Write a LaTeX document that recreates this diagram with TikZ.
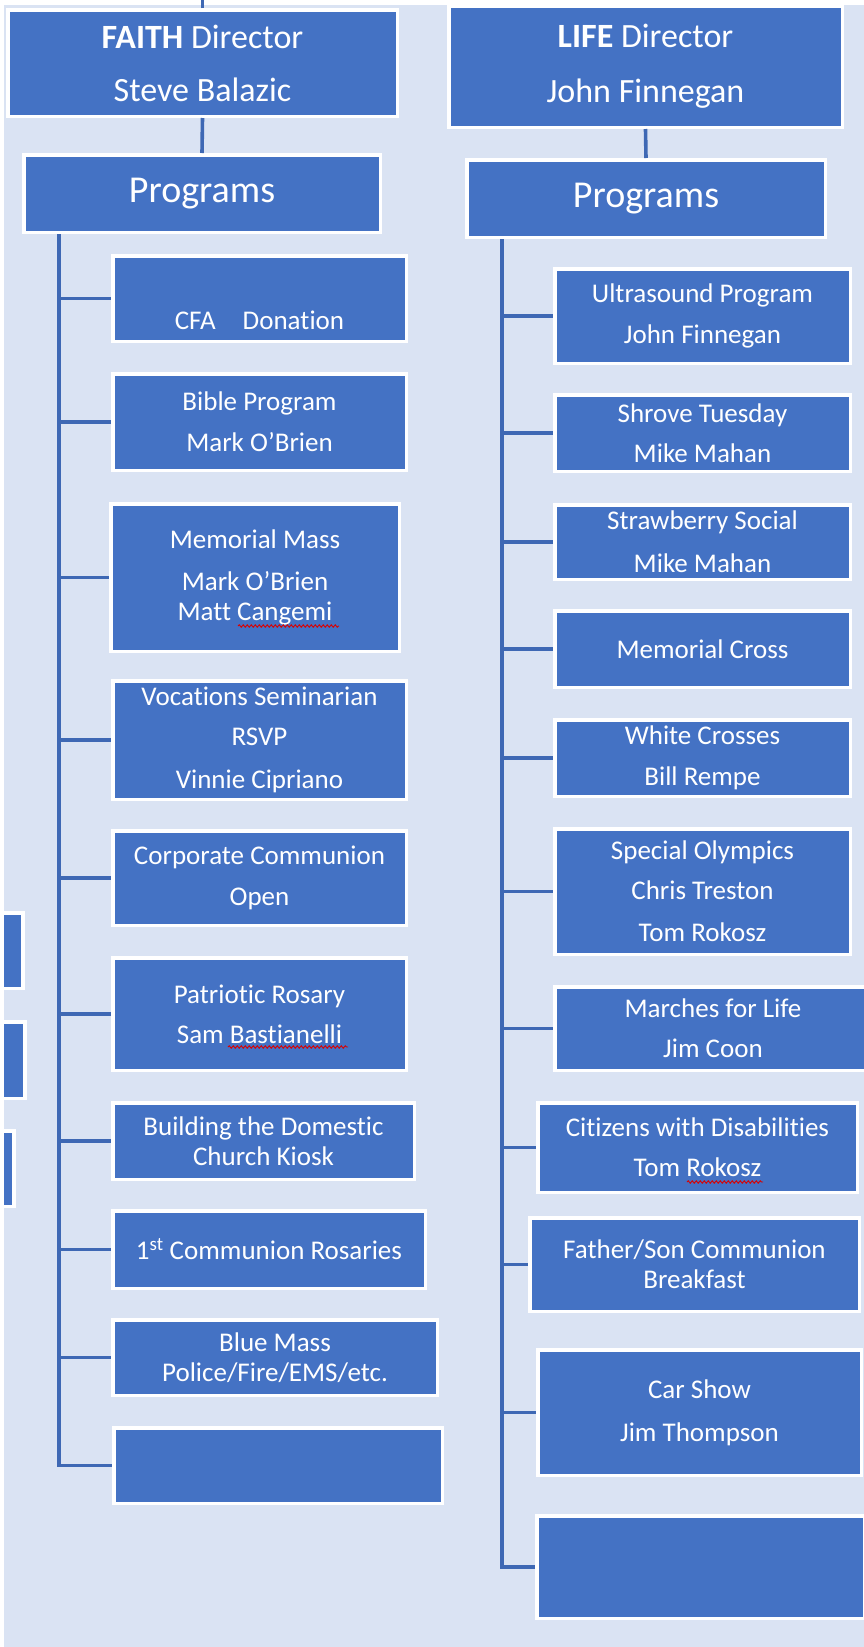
\documentclass[tikz,border=0pt]{standalone}
\usepackage{fontspec}
\setmainfont{Carlito}[Ligatures=NoCommon]
\usetikzlibrary{calc,positioning,decorations.pathmorphing}
\definecolor{boxblue}{RGB}{68,114,196}
\definecolor{linkblue}{RGB}{62,104,180}
\definecolor{paleblue}{RGB}{218,227,243}

\begin{document}
\begin{tikzpicture}[x=1pt,y=-1pt]

\tikzset{progbox/.style={draw=white,line width=3.5pt,fill=boxblue,text=white,align=center,inner sep=0pt,font=\fontsize{27}{30}\selectfont},
dirbox/.style={progbox,font=\fontsize{34}{40}\selectfont},
headbox/.style={progbox,font=\fontsize{38}{44}\selectfont},
boxsize/.style 2 args={minimum width=#1pt,minimum height=#2pt},
link/.style={draw=linkblue,line width=3.6pt},
spell/.style={draw=red!85!black,line width=0.9pt,decorate,decoration={snake,amplitude=1.2pt,segment length=4pt}}}

\useasboundingbox (0,0) rectangle (864,1647);
\fill[white] (0,0) rectangle (864,1647);
\fill[paleblue] (4,5) rectangle (864,1647);

\begin{scope}
\clip (4,5) rectangle (864,1647);

% Directors and program heads
\node[dirbox,boxsize={389.5}{106.5}] (faithdir) at (202.5,63) {\textbf{FAITH} Director\\[13pt]Steve Balazic};
\node[headbox,boxsize={356.5}{77.5}] (faithprog) at (202,193.5) {Programs};
\node[dirbox,boxsize={393.5}{121.5}] (lifedir) at (645.5,66.5) {\textbf{LIFE} Director\\[15pt]John Finnegan};
\node[headbox,boxsize={358.5}{77.5}] (lifeprog) at (646,198.5) {Programs};

% Faith programs
\node[progbox,boxsize={293.5}{85.5}] (cfa) at (259.5,298.5) {\strut\\[11pt]CFA\quad Donation};
\node[progbox,boxsize={293.5}{96.5}] (bible) at (259.5,422) {Bible Program\\[11pt]Mark O’Brien};
\node[progbox,boxsize={288.5}{147.5}] (memmass) at (255,577.5) {Memorial Mass\\[12pt]Mark O’Brien\\Matt Cangemi};
\node[progbox,boxsize={293.5}{118.5}] (vocations) at (259.5,740) {Vocations Seminarian\\[10pt]RSVP\\[13pt]Vinnie Cipriano};
\node[progbox,boxsize={293.5}{94.5}] (corporate) at (259.5,878) {Corporate Communion\\[11pt]Open};
\node[progbox,boxsize={293.5}{112.5}] (rosary) at (259.5,1014) {Patriotic Rosary\\[10pt]Sam Bastianelli};
\node[progbox,boxsize={301.5}{76.5}] (kiosk) at (263.5,1141) {Building the Domestic\\Church Kiosk};
\node[progbox,boxsize={312.5}{77.5}] (firstcomm) at (269,1249.5) {1\textsuperscript{st} Communion Rosaries};
\node[progbox,boxsize={324.5}{75.5}] (bluemass) at (275,1357.5) {Blue Mass\\Police/Fire/EMS/etc.};
\node[progbox,boxsize={328.5}{75.5}] (faithblank) at (278,1465.5) {};

% Life programs
\node[progbox,boxsize={295.5}{94.5}] (ultrasound) at (702.5,316) {Ultrasound Program\\[11pt]John Finnegan};
\node[progbox,boxsize={295.5}{76.5}] (shrove) at (702.5,433) {Shrove Tuesday\\[10pt]Mike Mahan};
\node[progbox,boxsize={295.5}{74.5}] (strawberry) at (702.5,542) {Strawberry Social\\[13pt]Mike Mahan};
\node[progbox,boxsize={295.5}{76.5}] (memcross) at (702.5,649) {Memorial Cross};
\node[progbox,boxsize={295.5}{76.5}] (whitecross) at (702.5,758) {White Crosses\\[11pt]Bill Rempe};
\node[progbox,boxsize={295.5}{125.5}] (olympics) at (702.5,891.5) {Special Olympics\\[10pt]Chris Treston\\[12pt]Tom Rokosz};
\node[progbox,boxsize={316.5}{83.5}] (marches) at (713,1028.5) {Marches for Life\\[10pt]Jim Coon};
\node[progbox,boxsize={319.5}{89.5}] (citizens) at (697.5,1147.5) {Citizens with Disabilities\\[10pt]Tom Rokosz};
\node[progbox,boxsize={329.5}{93.5}] (fatherson) at (694.5,1264.5) {Father/Son Communion\\Breakfast};
\node[progbox,boxsize={323.5}{125.5}] (carshow) at (699.5,1412.5) {Car Show\\[13pt]Jim Thompson};
\node[progbox,boxsize={327.5}{102.5}] (lifeblank) at (700.5,1567) {};

% Boxes cut off at the left edge
\node[progbox,boxsize={198}{75.5}] (cut1) at (-76,950.5) {};
\node[progbox,boxsize={198}{76.5}] (cut2) at (-74,1060) {};
\node[progbox,boxsize={198}{75.5}] (cut3) at (-85,1168.5) {};

% Edges
\coordinate (faithtrunk) at (59,234);
\coordinate (lifetrunk) at (502,239);
\draw[link] (faithdir.south) -- (faithprog.north); \draw[link] (lifedir.south) -- (lifeprog.north);
\foreach \b in {cfa,bible,memmass,vocations,corporate,rosary,kiosk,firstcomm,bluemass,faithblank} \draw[link] (faithtrunk) |- (\b.west); % faith tree
\foreach \b in {ultrasound,shrove,strawberry,memcross,whitecross,olympics,marches,citizens,fatherson,carshow,lifeblank} \draw[link] (lifetrunk) |- (\b.west); % life tree

% Spelling marks
\draw[spell] (238,626) -- (339,626);
\draw[spell] (228,1047) -- (348,1047);
\draw[spell] (687,1182) -- (763,1182);
\end{scope}

% Stub to the box above
\coordinate (faithup) at (202.5,0);
\draw[link] (faithdir.north) -- (faithup);

\end{tikzpicture}
\end{document}
